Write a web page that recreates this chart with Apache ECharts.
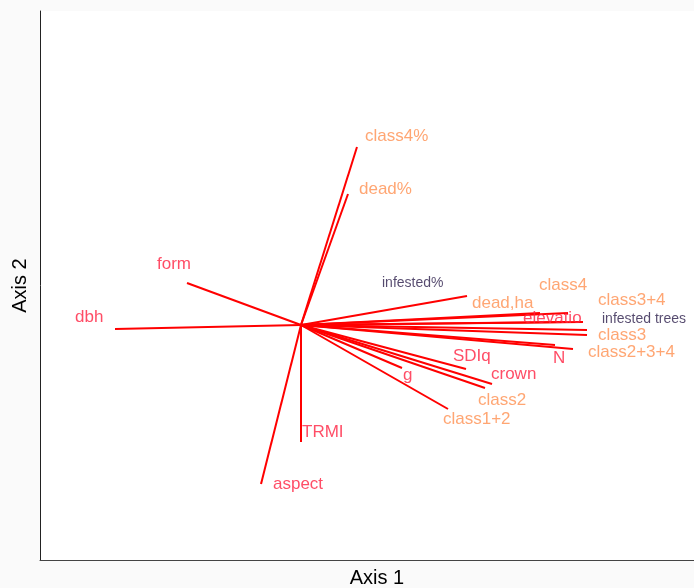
<!DOCTYPE html>
<html lang="en" style="height: 100%">
<head>
    <meta charset="UTF-8">
    <title>Biplot</title>
    <script src="https://cdn.jsdelivr.net/npm/echarts@6/dist/echarts.min.js"></script>
</head>
<body style="height: 100%; margin: 0">
<div id="main" style="width: 694px; height: 588px"></div>
<script>
    // vector names, end points (axis units) and label anchors (left edge, middle)
    var names = ['class4%', 'dead%', 'infested%', 'dead,ha', 'class4', 'elevatio', 'class3+4',
        'infested trees', 'class3', 'class2+3+4', 'N', 'SDIq', 'crown', 'class2', 'g',
        'class1+2', 'TRMI', 'aspect', 'form', 'dbh'];
    var vecX = [0.28, 0.235, 0.83, 1.195, 1.335, 1.32, 1.41, 1.43, 1.43, 1.36, 1.27,
        0.825, 0.955, 0.92, 0.505, 0.735, 0, -0.2, -0.57, -0.93];
    var vecY = [0.89, 0.655, 0.145, 0.06, 0.06, 0.015, 0.015, -0.025, -0.05, -0.12, -0.10,
        -0.22, -0.295, -0.315, -0.215, -0.42, -0.585, -0.795, 0.21, -0.02];
    var labX = [0.32, 0.29, 0.405, 0.855, 1.19, 1.11, 1.485, 1.505, 1.485, 1.435, 1.26,
        0.76, 0.95, 0.885, 0.51, 0.71, 0.005, -0.14, -0.72, -1.13];
    var labY = [0.945, 0.68, 0.21, 0.11, 0.20, 0.035, 0.125, 0.03, -0.05, -0.135, -0.165,
        -0.155, -0.245, -0.375, -0.25, -0.47, -0.535, -0.795, 0.305, 0.04];
    // 0 = red, 1 = orange, 2 = dark
    var group = [1, 1, 2, 1, 1, 0, 1, 2, 1, 1, 0, 0, 0, 1, 0, 1, 0, 0, 0, 0];

    var labelColors = ['#ff2040', '#ff9050', '#2b1d4a'];
    var labelSizes = [17, 17, 14];

    var series = [];
    for (var i = 0; i < names.length; i++) {
        series.push({
            type: 'line',
            data: [[0, 0], [vecX[i], vecY[i]]],
            symbol: 'none',
            silent: true,
            lineStyle: {color: '#ff0000', width: 2},
            z: 2
        });
    }
    var labelData = [];
    for (var j = 0; j < names.length; j++) {
        labelData.push({
            value: [labX[j], labY[j]],
            name: names[j],
            label: {color: labelColors[group[j]], fontSize: labelSizes[group[j]]}
        });
    }
    series.push({
        type: 'scatter',
        data: labelData,
        symbolSize: 0,
        z: 3,
        label: {
            show: true,
            position: 'right',
            distance: 0,
            fontFamily: 'Liberation Sans',
            formatter: '{b}'
        }
    });

    var option = {
        backgroundColor: '#fafafa',
        animation: false,
        grid: {
            left: 40, right: 0, top: 11, bottom: 28,
            outerBoundsMode: 'none',
            show: true, backgroundColor: '#ffffff', borderWidth: 0
        },
        xAxis: {
            type: 'value',
            min: -1.305,
            max: 1.965,
            name: 'Axis 1',
            nameLocation: 'middle',
            nameGap: 8,
            nameTextStyle: {color: '#000', fontSize: 20, fontFamily: 'Liberation Sans', padding: [0, 0, 0, 20]},
            axisLine: {onZero: false, lineStyle: {color: '#444', width: 1}},
            axisTick: {show: false},
            axisLabel: {show: false},
            splitLine: {show: false}
        },
        yAxis: {
            type: 'value',
            min: -1.175,
            max: 1.57,
            name: 'Axis 2',
            nameLocation: 'middle',
            nameGap: 10,
            nameTextStyle: {color: '#000', fontSize: 20, fontFamily: 'Liberation Sans'},
            axisLine: {show: true, onZero: false, lineStyle: {color: '#222', width: 1}},
            axisTick: {show: false},
            axisLabel: {show: false},
            splitLine: {show: false}
        },
        series: series
    };
    var myChart = echarts.init(document.getElementById('main'));
    myChart.setOption(option);
</script>
</body>
</html>
